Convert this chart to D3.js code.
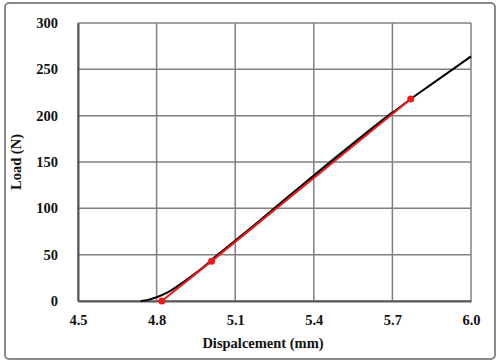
<!DOCTYPE html>
<html>
<head>
<meta charset="utf-8">
<script src="https://cdn.jsdelivr.net/npm/d3@7"></script>
<style>
  body { margin: 0; background: #fff; }
  text { font-family: "Liberation Serif", "Times New Roman", serif; font-weight: bold; }
</style>
</head>
<body>
<div id="chart"></div>
<script>
// datos
const xTicks = [4.5, 4.8, 5.1, 5.4, 5.7, 6.0];
const yTicks = [0, 50, 100, 150, 200, 250, 300];

// curva experimental (negro)
const curveX = [4.74, 4.77, 4.80, 4.84, 4.88, 4.93, 4.98, 5.03, 5.10, 5.20, 5.30, 5.40, 5.50, 5.60, 5.70, 5.77, 5.85, 5.93, 6.00];
const curveY = [0, 1.5, 4, 9, 16, 26, 37, 49, 65, 88, 112, 135, 158, 181, 203, 218, 234, 250, 264];

// curva verde oscura (casi tapada por la negra)
const greenX = [5.00, 5.10, 5.30, 5.50, 5.70];
const greenY = [42, 65, 112, 159, 204];

// ajuste lineal (rojo)
const fitX = [4.82, 5.01, 5.77];
const fitY = [0, 43, 218];

const width = 500, height = 364;
const margin = {left: 78, right: 29, top: 23, bottom: 63};

const svg = d3.select("#chart").append("svg")
    .attr("width", width)
    .attr("height", height);

// marco exterior
svg.append("rect")
    .attr("x", 5).attr("y", 3)
    .attr("width", 490).attr("height", 356)
    .attr("rx", 4)
    .attr("fill", "#fff")
    .attr("stroke", "#8a8a8a")
    .attr("stroke-width", 2);

const x = d3.scaleLinear().domain([4.5, 6.0]).range([margin.left, width - margin.right]);
const y = d3.scaleLinear().domain([0, 300]).range([height - margin.bottom, margin.top]);

// rejilla
svg.append("g").selectAll("line").data(yTicks).enter().append("line")
    .attr("x1", x(4.5)).attr("x2", x(6.0))
    .attr("y1", d => y(d)).attr("y2", d => y(d))
    .attr("stroke", "#808080").attr("stroke-width", 1.5);
svg.append("g").selectAll("line").data(xTicks).enter().append("line")
    .attr("x1", d => x(d)).attr("x2", d => x(d))
    .attr("y1", y(0)).attr("y2", y(300))
    .attr("stroke", "#808080").attr("stroke-width", 1.5);

// ejes
const xAxis = svg.append("g")
    .attr("transform", `translate(0, ${y(0)})`)
    .call(d3.axisBottom(x).tickValues(xTicks).tickFormat(d3.format(".1f")).tickSize(0).tickPadding(14));
const yAxis = svg.append("g")
    .attr("transform", `translate(${x(4.5)}, 0)`)
    .call(d3.axisLeft(y).tickValues(yTicks).tickSize(0).tickPadding(20));
[xAxis, yAxis].forEach(g => {
    g.select(".domain").attr("stroke", "#555").attr("stroke-width", 2);
    g.selectAll("text").attr("font-size", 14.5).attr("fill", "#111")
        .style("font-family", "Liberation Serif").style("font-weight", "bold");
});

const line = d3.line().x(d => x(d[0])).y(d => y(d[1])).curve(d3.curveMonotoneX);

svg.append("path")
    .datum(greenX.map((v, i) => [v, greenY[i]]))
    .attr("d", line)
    .attr("fill", "none").attr("stroke", "#2a6e5c").attr("stroke-width", 1.8)
    .attr("transform", "translate(0.6,-0.6)");

svg.append("path")
    .datum(curveX.map((v, i) => [v, curveY[i]]))
    .attr("d", line)
    .attr("fill", "none").attr("stroke", "#000").attr("stroke-width", 2);

const fit = fitX.map((v, i) => [v, fitY[i]]);
svg.append("path")
    .datum(fit)
    .attr("d", d3.line().x(d => x(d[0])).y(d => y(d[1])))
    .attr("fill", "none").attr("stroke", "#f21818").attr("stroke-width", 2);
svg.append("g").selectAll("circle").data(fit).enter().append("circle")
    .attr("cx", d => x(d[0])).attr("cy", d => y(d[1])).attr("r", 3.5)
    .attr("fill", "#f21818");

// etiquetas de los ejes
svg.append("text")
    .attr("x", 263).attr("y", 348)
    .attr("text-anchor", "middle")
    .attr("font-size", 14.5)
    .attr("fill", "#111")
    .text("Dispalcement  (mm)");

svg.append("text")
    .attr("transform", "rotate(-90)")
    .attr("x", -162).attr("y", 21)
    .attr("text-anchor", "middle")
    .attr("font-size", 14.5)
    .attr("fill", "#111")
    .text("Load (N)");
</script>
</body>
</html>
